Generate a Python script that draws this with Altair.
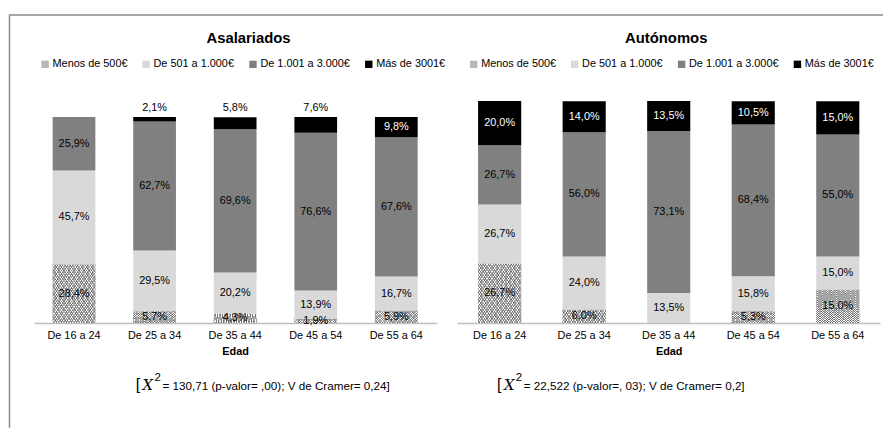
import altair as alt
import pandas as pd

ages = ["De 16 a 24", "De 25 a 34", "De 35 a 44", "De 45 a 54", "De 55 a 64"]
cats = ["Menos de 500€", "De 501 a 1.000€", "De 1.001 a 3.000€", "Más de 3001€"]

asal_menos500 = [28.4, 5.7, 4.3, 1.9, 5.9]
asal_501_1000 = [45.7, 29.5, 20.2, 13.9, 16.7]
asal_1001_3000 = [25.9, 62.7, 69.6, 76.6, 67.6]
asal_mas3001 = [0.0, 2.1, 5.8, 7.6, 9.8]

auto_menos500 = [26.7, 6.0, 0.0, 5.3, 15.0]
auto_501_1000 = [26.7, 24.0, 13.5, 15.8, 15.0]
auto_1001_3000 = [26.7, 56.0, 73.1, 68.4, 55.0]
auto_mas3001 = [20.0, 14.0, 13.5, 10.5, 15.0]

colors = ["#b8b8b8", "#d9d9d9", "#808080", "#000000"]
FONT = "Liberation Sans"


def build(series, outside_small):
    rows = []
    for i, a in enumerate(ages):
        cum = 0.0
        for j, c in enumerate(cats):
            v = series[j][i]
            if v > 0:
                kind = "dark" if j < 3 else "light"
                if j == 3 and outside_small and v < 9:
                    kind = "out"
                rows.append(dict(age=a, cat=c, v=v, y0=cum, y1=cum + v,
                                 mid=cum + v / 2,
                                 label=f"{v:.1f}%".replace(".", ","),
                                 kind=kind))
            cum += v
    return pd.DataFrame(rows)


def stripes(x1, y1, x2, y2, n=34):
    stops = []
    for k in range(n):
        a = k / n
        b = (k + 0.5) / n
        c = (k + 1) / n
        stops += [alt.GradientStop(color="rgba(40,40,40,0.42)", offset=a),
                  alt.GradientStop(color="rgba(40,40,40,0.42)", offset=b),
                  alt.GradientStop(color="rgba(255,255,255,0)", offset=b),
                  alt.GradientStop(color="rgba(255,255,255,0)", offset=c)]
    return alt.LinearGradient(gradient="linear", stops=stops,
                              x1=x1, y1=y1, x2=x2, y2=y2)


def panel(df, width, ymax, pad, title, title_x, stats_num, stats_x0,
          legend_x, border=False):
    x = alt.X("age:N", sort=ages,
              scale=alt.Scale(paddingInner=pad, paddingOuter=pad / 2),
              axis=alt.Axis(title="Edad", labelAngle=0, ticks=False,
                            domainColor="#bfbfbf", domainWidth=1.5,
                            labelFont=FONT, labelFontSize=11,
                            labelColor="#000", labelPadding=7,
                            titleFont=FONT, titleFontSize=11,
                            titleFontWeight="bold", titleColor="#000",
                            titlePadding=5, grid=False))
    y = alt.Y("y0:Q", scale=alt.Scale(domain=[0, ymax], nice=False),
              axis=None)
    base = alt.Chart(df)
    bars = base.mark_bar().encode(
        x=x, y=y, y2="y1:Q",
        color=alt.Color("cat:N",
                        scale=alt.Scale(domain=cats, range=colors),
                        legend=alt.Legend(orient="none", legendX=legend_x,
                                          legendY=-43, direction="horizontal",
                                          title=None, symbolType="square",
                                          symbolSize=56, symbolStrokeWidth=0,
                                          labelFont=FONT, labelFontSize=11,
                                          labelColor="#000", labelOffset=2,
                                          columnPadding=13, labelLimit=0,
                                          padding=0)))
    hat = base.transform_filter(alt.datum.cat == cats[0])
    h0 = hat.mark_bar(fill="white").encode(x=x, y=y, y2="y1:Q")
    h1 = hat.mark_bar(fill=stripes(0, 0, 1, 1)).encode(x=x, y=y, y2="y1:Q")
    h2 = hat.mark_bar(fill=stripes(1, 0, 0, 1)).encode(x=x, y=y, y2="y1:Q")
    tdark = base.transform_filter(alt.datum.kind == "dark").mark_text(
        font=FONT, fontSize=11, color="#000", baseline="middle").encode(
        x=x, y="mid:Q", text="label:N")
    tlight = base.transform_filter(alt.datum.kind == "light").mark_text(
        font=FONT, fontSize=11, color="#fff", baseline="middle").encode(
        x=x, y="mid:Q", text="label:N")
    tout = base.transform_filter(alt.datum.kind == "out").mark_text(
        font=FONT, fontSize=11, color="#000", baseline="middle", dy=-9).encode(
        x=x, y="y1:Q", text="label:N")
    one = pd.DataFrame({"t": [title]})
    ttl = alt.Chart(one).mark_text(font=FONT, fontSize=15, fontWeight="bold",
                                   color="#000", baseline="middle").encode(
        x=alt.value(title_x), y=alt.value(-64), text="t:N")
    s = pd.DataFrame({"p": ["["], "x": ["X"], "n": ["2"], "r": [stats_num]})
    sy = 287
    s1 = alt.Chart(s).mark_text(font=FONT, fontSize=16, align="left",
                                baseline="middle", color="#000").encode(
        x=alt.value(stats_x0), y=alt.value(sy), text="p:N")
    s2 = alt.Chart(s).mark_text(font="DejaVu Serif", fontSize=15,
                                fontStyle="italic", align="left",
                                baseline="middle", color="#000").encode(
        x=alt.value(stats_x0 + 7), y=alt.value(sy), text="x:N")
    s3 = alt.Chart(s).mark_text(font=FONT, fontSize=11.5, align="left",
                                baseline="middle", color="#000").encode(
        x=alt.value(stats_x0 + 19), y=alt.value(sy - 7), text="n:N")
    s4 = alt.Chart(s).mark_text(font=FONT, fontSize=11.8, align="left",
                                baseline="middle", color="#000").encode(
        x=alt.value(stats_x0 + 27), y=alt.value(sy + 1), text="r:N")
    layers = [bars, h0, h1, h2, tdark, tlight, tout, ttl, s1, s2, s3, s4]
    if border:
        b = pd.DataFrame({"a": [0]})
        layers.append(alt.Chart(b).mark_rule(color="#8a8a8a", strokeWidth=1.5).encode(
            x=alt.value(-24.5), y=alt.value(-87), y2=alt.value(330)))
        layers.append(alt.Chart(b).mark_rule(color="#8a8a8a", strokeWidth=1.5).encode(
            x=alt.value(-25), x2=alt.value(858), y=alt.value(-87)))
    return alt.layer(*layers).properties(width=width, height=224)


left = panel(build([asal_menos500, asal_501_1000, asal_1001_3000, asal_mas3001], True),
             407, 100 * 224 / 208, 0.47, "Asalariados", 217,
             "= 130,71 (p-valor= ,00); V de Cramer= 0,24]", 103, 6, border=True)
right = panel(build([auto_menos500, auto_501_1000, auto_1001_3000, auto_mas3001], False),
              427, 100, 0.49, "Autónomos", 211,
              "= 22,522 (p-valor=, 03); V de Cramer= 0,2]", 40, 11)

chart = alt.hconcat(left, right, spacing=21, bounds="flush").resolve_scale(
    color="independent", y="independent", x="independent"
).resolve_legend(color="independent").properties(
    padding={"left": 0, "top": 4, "right": 0, "bottom": 0}
).configure_view(stroke=None)

chart.save("out.html", embed_options={"renderer": "svg", "actions": False})
